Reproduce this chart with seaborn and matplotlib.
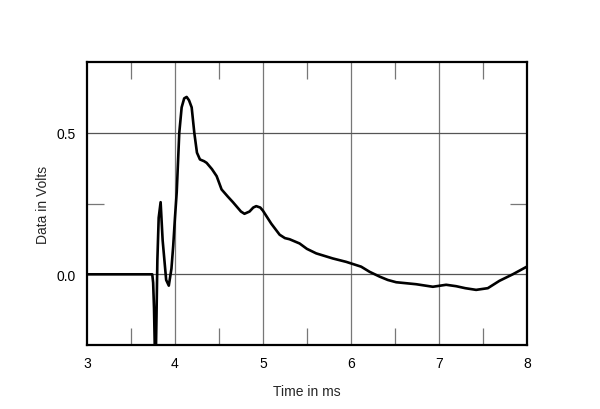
import matplotlib
matplotlib.use("Agg")
import matplotlib.pyplot as plt
from matplotlib.ticker import FixedLocator
import seaborn as sns
import pandas as pd

time_ms = [3.0, 3.5, 3.742, 3.752, 3.762, 3.772, 3.782, 3.79, 3.80, 3.815, 3.837, 3.86, 3.90, 3.93, 3.96,
           3.98, 4.0, 4.02, 4.049, 4.076, 4.105, 4.133, 4.16, 4.19, 4.22, 4.25, 4.284, 4.33, 4.36,
           4.42, 4.474, 4.53, 4.60, 4.659, 4.75, 4.79, 4.848, 4.89, 4.924, 4.97, 5.0, 5.095, 5.19,
           5.25, 5.303, 5.417, 5.5, 5.606, 5.795, 5.947, 6.117, 6.212, 6.326, 6.42, 6.515, 6.742,
           6.932, 7.083, 7.197, 7.30, 7.424, 7.557, 7.689, 7.84, 8.0]
volts = [0.0, 0.0, 0.0, -0.03, -0.12, -0.28, -0.30, -0.15, 0.05, 0.20, 0.255, 0.12, -0.02, -0.04, 0.02,
         0.10, 0.20, 0.29, 0.50, 0.59, 0.622, 0.627, 0.615, 0.59, 0.50, 0.43, 0.406, 0.400, 0.394,
         0.372, 0.347, 0.30, 0.275, 0.255, 0.222, 0.214, 0.222, 0.236, 0.241, 0.236, 0.225, 0.179,
         0.140, 0.128, 0.124, 0.109, 0.090, 0.074, 0.056, 0.044, 0.027, 0.009, -0.008, -0.020,
         -0.028, -0.035, -0.044, -0.037, -0.042, -0.049, -0.055, -0.049, -0.023, 0.0, 0.027]

x_ticks = [3, 4, 5, 6, 7, 8]
y_ticks = [0.0, 0.5]
y_tick_labels = ["0.0", "0.5"]

sns.set_style("white")
plt.rcParams['font.family'] = ['Liberation Sans', 'DejaVu Sans']

df = pd.DataFrame({"t": time_ms, "v": volts})

fig = plt.figure(figsize=(6, 4.1), dpi=100)
ax = fig.add_axes([0.145, 0.156, 0.733, 0.69])

ax.set_xlim(3, 8)
ax.set_ylim(-0.25, 0.75)

for xv in [4, 5, 6, 7]:
    ax.axvline(xv, color="#777777", lw=0.9, zorder=1)
for yv in [0.0, 0.5]:
    ax.axhline(yv, color="#555555", lw=0.9, zorder=1)

sns.lineplot(data=df, x="t", y="v", ax=ax, color="black", lw=1.9, zorder=3, sort=False)

ax.set_xticks(x_ticks)
ax.set_xticklabels([str(x) for x in x_ticks])
ax.set_yticks(y_ticks)
ax.set_yticklabels(y_tick_labels)
ax.tick_params(axis="both", which="major", length=0, labelsize=10, pad=8, colors="black")
ax.xaxis.set_minor_locator(FixedLocator([3.5, 4.5, 5.5, 6.5, 7.5]))
ax.yaxis.set_minor_locator(FixedLocator([0.25]))
ax.tick_params(axis="both", which="minor", direction="in", length=12, width=0.9,
               color="#777777", top=True, right=True, bottom=True, left=True)

for s in ax.spines.values():
    s.set_color("black")
    s.set_linewidth(1.6)
    s.set_visible(True)

ax.set_xlabel("Time in ms", fontsize=10, labelpad=10)
ax.set_ylabel("Data in Volts", fontsize=10, labelpad=5)

fig.savefig("out.png", dpi=100)
